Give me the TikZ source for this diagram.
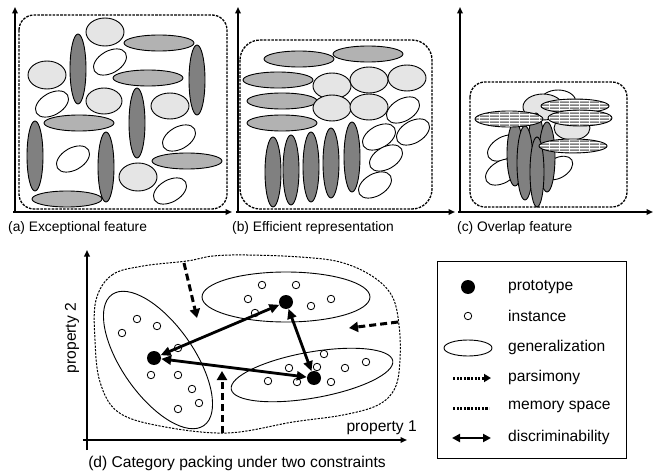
\documentclass[tikz,border=0pt]{standalone}
\usepackage{fontspec}
\setmainfont{Liberation Sans}
\usetikzlibrary{arrows.meta,patterns,patterns.meta}
\definecolor{lightfill}{gray}{0.9}
\definecolor{medfill}{gray}{0.7}
\definecolor{darkfill}{gray}{0.5}
\definecolor{stripe}{gray}{0.5}
\tikzdeclarepattern{
  name=hstripes,
  type=uncolored,
  bounding box={(0pt,0pt) and (10pt,2.8pt)},
  tile size={(10pt,2.8pt)},
  code={\pgfpathrectangle{\pgfpoint{0pt}{0pt}}{\pgfpoint{10pt}{1.6pt}}\pgfusepath{fill}}
}
\begin{document}
\begin{tikzpicture}[x=1pt,y=-1pt,
  ell/.style={draw=black, line width=0.9pt},
  lt/.style={ell, fill=lightfill},
  md/.style={ell, fill=medfill},
  dk/.style={ell, fill=darkfill},
  wt/.style={ell, fill=white},
  st/.style={ell, preaction={fill=white}, pattern=hstripes, pattern color=stripe},
  axis/.style={line width=1.6pt, -{Triangle[length=6.5pt,width=5.5pt]}},
  boxdash/.style={line width=1.3pt, dash pattern=on 2.6pt off 1.2pt},
  blobdash/.style={line width=1pt, dash pattern=on 2.2pt off 1.3pt},
  pars/.style={line width=3pt, dash pattern=on 7pt off 4pt, -{Triangle[length=9pt,width=10pt]}},
  disc/.style={line width=2.8pt, {Triangle[length=10pt,width=9pt]}-{Triangle[length=10pt,width=9pt]}},
  proto/.style={circle, fill=black, inner sep=0pt, minimum size=14pt},
  inst/.style={circle, draw=black, line width=0.8pt, fill=white, inner sep=0pt, minimum size=7.5pt},
  legdot/.style={line width=3pt, dash pattern=on 2.2pt off 1.4pt},
  capA/.style={font=\fontsize{13.8pt}{16pt}\selectfont, inner sep=0pt},
  capD/.style={font=\fontsize{15.6pt}{18pt}\selectfont, inner sep=0pt},
]
\useasboundingbox (0,0) rectangle (662,476);

% ---------------- panel (a)
\draw[boxdash, rounded corners=15pt] (19,15) rectangle (227,209);
\path[lt] (105,32) ellipse[x radius=19,y radius=14];
\path[md] (159,43) ellipse[x radius=35,y radius=8];
\path[dk] (78,69) ellipse[x radius=8,y radius=35];
\path[wt,rotate around={30:(110,62)}] (110,62) ellipse[x radius=18,y radius=11];
\path[lt] (47,75) ellipse[x radius=19,y radius=14];
\path[md] (148,78) ellipse[x radius=35,y radius=8];
\path[dk] (197,80) ellipse[x radius=8,y radius=35];
\path[wt,rotate around={30:(52,104)}] (52,104) ellipse[x radius=18,y radius=11];
\path[lt] (104,101) ellipse[x radius=18,y radius=13];
\path[dk] (137,123) ellipse[x radius=8,y radius=35];
\path[lt] (170,106) ellipse[x radius=19,y radius=13];
\path[md] (79,123) ellipse[x radius=35,y radius=8];
\path[wt,rotate around={30:(179,138)}] (179,138) ellipse[x radius=18,y radius=11];
\path[dk] (35,156) ellipse[x radius=8,y radius=35];
\path[wt,rotate around={30:(73,159)}] (73,159) ellipse[x radius=18,y radius=11];
\path[md] (187,161) ellipse[x radius=35,y radius=8];
\path[lt] (138,177) ellipse[x radius=19,y radius=14];
\path[wt,rotate around={30:(170,191)}] (170,191) ellipse[x radius=18,y radius=11];
\path[md] (67,199) ellipse[x radius=35,y radius=8];
\path[dk] (106,167) ellipse[x radius=8,y radius=35];
\draw[axis] (15,213) -- (15,7);
\draw[axis] (13,212) -- (232,212);
\node[capA, anchor=west] (capa) at (8,228) {(a) Exceptional feature};

% ---------------- panel (b)
\draw[boxdash, rounded corners=20pt] (240,40) rectangle (432,209);
\path[md] (299,59) ellipse[x radius=35,y radius=8];
\path[md] (368,54) ellipse[x radius=35,y radius=8];
\path[md] (278,80) ellipse[x radius=35,y radius=8];
\path[md] (282,101) ellipse[x radius=35,y radius=8];
\path[md] (282,123) ellipse[x radius=35,y radius=8];
\path[lt] (332,86) ellipse[x radius=19,y radius=13];
\path[lt] (369,80) ellipse[x radius=19,y radius=13];
\path[lt] (407,78) ellipse[x radius=19,y radius=13];
\path[lt] (332,108) ellipse[x radius=19,y radius=13];
\path[lt] (369,107) ellipse[x radius=19,y radius=13];
\path[wt,rotate around={30:(403,110)}] (403,110) ellipse[x radius=18,y radius=11];
\path[wt,rotate around={30:(379,137)}] (379,137) ellipse[x radius=18,y radius=11];
\path[wt,rotate around={30:(413,132)}] (413,132) ellipse[x radius=18,y radius=11];
\path[wt,rotate around={30:(386,158)}] (386,158) ellipse[x radius=18,y radius=11];
\path[wt,rotate around={30:(375,185)}] (375,185) ellipse[x radius=18,y radius=11];
\path[dk] (273,172) ellipse[x radius=8,y radius=35];
\path[dk] (291,170) ellipse[x radius=8,y radius=35];
\path[dk] (311,167) ellipse[x radius=8,y radius=35];
\path[dk] (331,163) ellipse[x radius=8,y radius=35];
\path[dk] (352,157) ellipse[x radius=8,y radius=35];
\draw[axis] (238,213) -- (238,7);
\draw[axis] (236,212) -- (455,212);
\node[capA, anchor=west] (capb) at (232,228) {(b) Efficient representation};

% ---------------- panel (c)
\draw[boxdash, rounded corners=15pt] (470,82) rectangle (627,207);
\path[wt] (558,102) ellipse[x radius=18,y radius=12];
\path[lt] (543,107) ellipse[x radius=20,y radius=13];
\path[lt] (572,128) ellipse[x radius=18,y radius=12];
\path[wt,rotate around={30:(504,148)}] (504,148) ellipse[x radius=18,y radius=11];
\path[wt,rotate around={30:(502,172)}] (502,172) ellipse[x radius=18,y radius=11];
\path[wt,rotate around={30:(558,168)}] (558,168) ellipse[x radius=16,y radius=10];
\path[dk] (536,148) ellipse[x radius=8,y radius=35];
\path[dk] (515,154) ellipse[x radius=8,y radius=32];
\path[dk] (547,157) ellipse[x radius=8,y radius=35];
\path[dk] (525,163) ellipse[x radius=8,y radius=37];
\path[dk] (537,172) ellipse[x radius=7,y radius=35];
\path[st] (575,106) ellipse[x radius=34,y radius=7];
\path[st] (580,118) ellipse[x radius=32,y radius=8];
\path[st] (509,119) ellipse[x radius=34,y radius=8];
\path[st] (573,146) ellipse[x radius=34,y radius=7];
\draw[axis] (460,213) -- (460,7);
\draw[axis] (458,212) -- (653,212);
\node[capA, anchor=west] (capc) at (457,228) {(c) Overlap feature};

% ---------------- panel (d)
\draw[blobdash] plot[smooth cycle, tension=0.6] coordinates {
 (96,300) (112,275) (143,266) (187,261) (213,256) (247,255) (300,257) (340,262)
 (372,276) (392,296) (399,325) (400,360) (395,388) (378,405) (343,415) (293,422)
 (227,433) (160,426) (118,412) (100,382) (95,340)};
\path[ell, rotate around={-55:(158,360)}] (158,360) ellipse[x radius=80,y radius=36];
\path[ell] (286,297) ellipse[x radius=84,y radius=25];
\path[ell, rotate around={10:(312,375)}] (312,375) ellipse[x radius=82,y radius=23];
\foreach \p [count=\i] in {(122,333),(137,319),(157,326),(178,348),(151,375),(178,375),(192,389),(199,403),(178,409),
  (262,285),(296,285),(248,299),(255,313),(311,306),(331,299),
  (324,354),(289,368),(317,367),(345,368),(366,362),(268,381),(297,382),(331,382)}
  \node[inst] (i\i) at \p {};
\node[proto] (p1) at (154,358) {};
\node[proto] (p2) at (286,302) {};
\node[proto] (p3) at (314,378) {};
\draw[disc] (p1) -- (p2);
\draw[disc] (p1) -- (p3);
\draw[disc] (p2) -- (p3);
\coordinate (t1) at (184,263); \coordinate (t2) at (197,318);
\coordinate (r1) at (398,322); \coordinate (r2) at (349,328);
\coordinate (b1) at (222,433); \coordinate (b2) at (222,371);
\draw[pars] (t1) -- (t2);
\draw[pars] (r1) -- (r2);
\draw[pars] (b1) -- (b2);
\draw[axis] (87,450) -- (87,250);
\draw[axis] (83,440) -- (407,440);
\node[capD, anchor=east] (px) at (417,428) {property 1};
\node[capD, rotate=90] (py) at (72,338) {property 2};
\node[capD] (capd) at (237,463) {(d) Category packing under two constraints};

% ---------------- legend
\draw[line width=0.9pt] (437,261) rectangle (626,458);
\node[proto] (lp) at (468,287) {};
\node[inst] (li) at (468,316) {};
\path[ell] (468,348) ellipse[x radius=24,y radius=8];
\coordinate (lpa) at (453,378); \coordinate (lpb) at (491,378);
\draw[legdot, -{Triangle[length=7pt,width=8pt]}] (lpa) -- (lpb);
\coordinate (lma) at (453,408); \coordinate (lmb) at (489,408);
\draw[legdot] (lma) -- (lmb);
\coordinate (lda) at (452,438); \coordinate (ldb) at (491,438);
\draw[line width=2.8pt, {Triangle[length=8pt,width=8pt]}-{Triangle[length=8pt,width=8pt]}] (lda) -- (ldb);
\node[capD, anchor=west] (t1l) at (508,287) {prototype};
\node[capD, anchor=west] (t2l) at (508,316) {instance};
\node[capD, anchor=west] (t3l) at (508,347) {generalization};
\node[capD, anchor=west] (t4l) at (508,377) {parsimony};
\node[capD, anchor=west] (t5l) at (508,407) {memory space};
\node[capD, anchor=west] (t6l) at (508,437) {discriminability};
\end{tikzpicture}
\end{document}
